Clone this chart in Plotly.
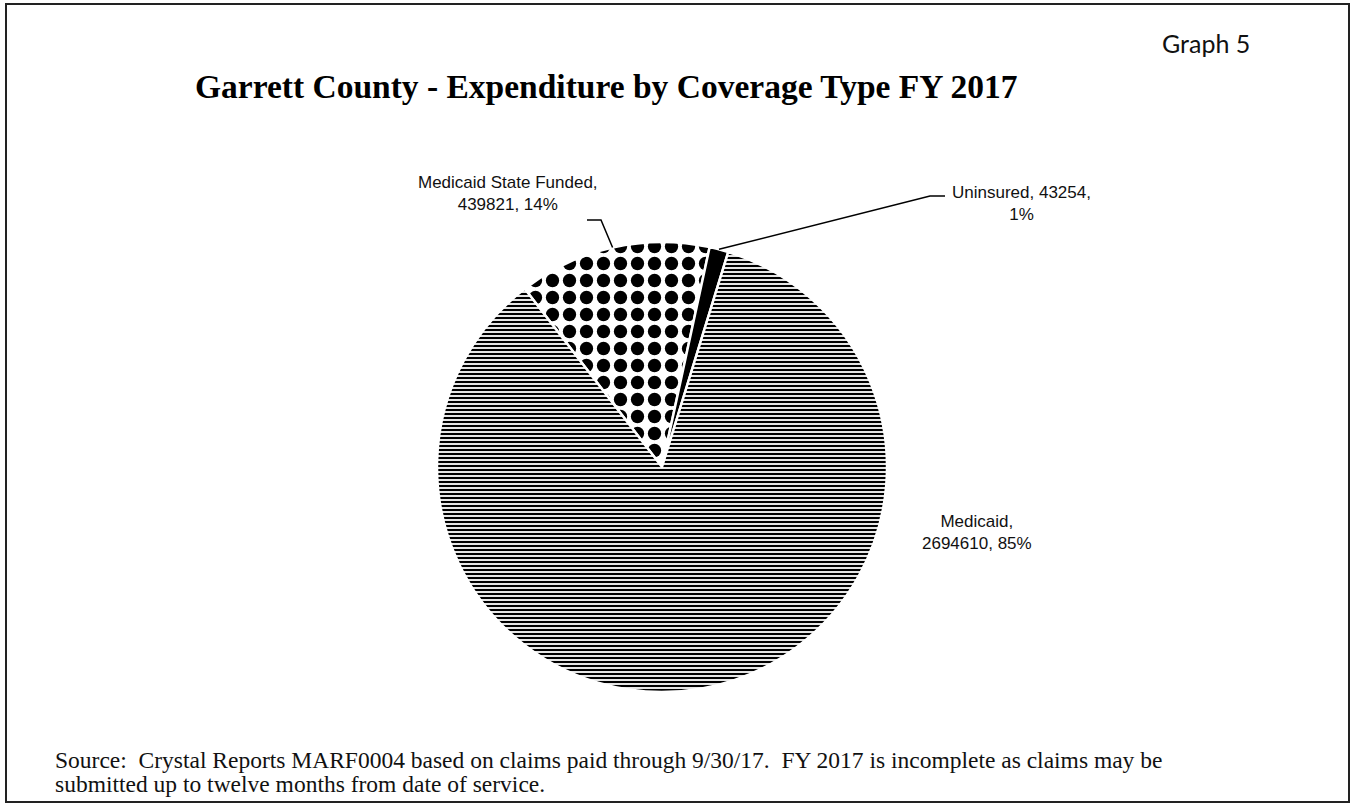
import math
import plotly.graph_objects as go

# Data
categories = ["Medicaid State Funded", "Uninsured", "Medicaid"]
values = [439821, 43254, 2694610]
percents = ["14%", "1%", "85%"]

W, H = 1351, 804
# pie geometry (pixels)
cx, cy, R = 662, 467, 225
rotation = -37.6

def px(x):
    return x / W

def py(y):
    return 1 - y / H

fig = go.Figure()
fig.add_trace(go.Pie(
    labels=categories,
    values=values,
    sort=False,
    direction="clockwise",
    rotation=rotation,
    textinfo="none",
    hoverinfo="label+value+percent",
    showlegend=False,
    domain=dict(x=[px(cx - R), px(cx + R)], y=[py(cy + R), py(cy - R)]),
    marker=dict(
        colors=["white", "black", "white"],
        line=dict(color="white", width=2.5),
        pattern=dict(
            shape=[".", "", "-"],
            fgcolor=["black", "black", "black"],
            bgcolor=["white", "black", "white"],
            size=[17, 8, 4],
            solidity=[0.48, 0.5, 0.55],
        ),
    ),
))

# compute mid-angle arc points from the data
total = sum(values)
cum = 0
mids = []
for v in values:
    a0 = rotation + 360 * cum / total
    cum += v
    a1 = rotation + 360 * cum / total
    am = math.radians((a0 + a1) / 2)
    mids.append((cx + R * math.sin(am), cy - R * math.cos(am)))

shapes = []
# frame
shapes.append(dict(type="rect", xref="paper", yref="paper",
                   x0=px(6), x1=px(1349), y0=py(802), y1=py(4),
                   line=dict(color="#222", width=2), fillcolor="rgba(0,0,0,0)"))
# leader line MSF
mx, my = mids[0]
shapes.append(dict(type="path", xref="paper", yref="paper",
                   path=f"M {px(mx)} {py(my)} L {px(601)} {py(220)} L {px(587)} {py(220)}",
                   line=dict(color="black", width=1.5)))
# leader line Uninsured
ux, uy = mids[1]
shapes.append(dict(type="path", xref="paper", yref="paper",
                   path=f"M {px(ux)} {py(uy)} L {px(930)} {py(196)} L {px(945)} {py(196)}",
                   line=dict(color="black", width=1.5)))

lab_font = dict(family="Liberation Sans, Arial", size=17, color="#111")
src_font = dict(family="Liberation Serif, Times New Roman", size=23.5, color="#111")
annotations = [
    dict(text="<b>Garrett County - Expenditure by Coverage Type FY 2017</b>",
         x=px(606), y=py(86), xref="paper", yref="paper", showarrow=False,
         font=dict(family="Liberation Serif, Times New Roman", size=33.5, color="black"),
         xanchor="center", yanchor="middle"),
    dict(text="Graph 5", x=px(1206), y=py(43), xref="paper", yref="paper", showarrow=False,
         font=dict(family="Lato", size=25, color="#111"), xanchor="center", yanchor="middle"),
    dict(text=f"{categories[0]},<br>{values[0]}, {percents[0]}", x=px(508), y=py(193),
         xref="paper", yref="paper", showarrow=False, font=lab_font, align="center",
         xanchor="center", yanchor="middle"),
    dict(text=f"{categories[1]}, {values[1]},<br>{percents[1]}", x=px(1021), y=py(203),
         xref="paper", yref="paper", showarrow=False, font=lab_font, align="center",
         xanchor="center", yanchor="middle"),
    dict(text=f"{categories[2]},<br>{values[2]}, {percents[2]}", x=px(977), y=py(532),
         xref="paper", yref="paper", showarrow=False, font=lab_font, align="center",
         xanchor="center", yanchor="middle"),
    dict(text="Source:  Crystal Reports MARF0004 based on claims paid through 9/30/17.  FY 2017 is incomplete as claims may be",
         x=px(53), y=py(760), xref="paper", yref="paper", showarrow=False,
         font=src_font, align="left", xanchor="left", yanchor="middle"),
    dict(text="submitted up to twelve months from date of service.",
         x=px(53), y=py(784), xref="paper", yref="paper", showarrow=False,
         font=src_font, align="left", xanchor="left", yanchor="middle"),
]

fig.update_layout(
    width=W, height=H,
    margin=dict(l=0, r=0, t=0, b=0),
    paper_bgcolor="white",
    plot_bgcolor="white",
    shapes=shapes,
    annotations=annotations,
)

fig.write_html("out.html")
